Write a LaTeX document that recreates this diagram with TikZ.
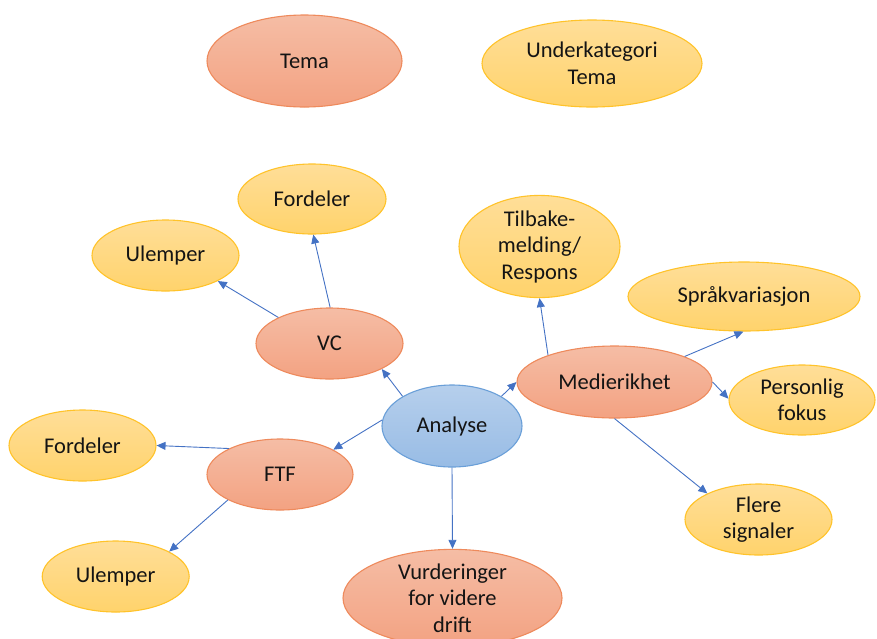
\documentclass[tikz,border=0pt]{standalone}
\usepackage{fontspec}
\setmainfont{Carlito}
\usetikzlibrary{shapes.geometric,arrows.meta}
\definecolor{salB}{HTML}{EE8A5C}
\definecolor{salT}{HTML}{F5BDA5}
\definecolor{salD}{HTML}{F3A282}
\definecolor{yelB}{HTML}{FFC32A}
\definecolor{yelT}{HTML}{FFDE98}
\definecolor{yelD}{HTML}{FFD36C}
\definecolor{bluB}{HTML}{6A9FD8}
\definecolor{bluT}{HTML}{B6CFEC}
\definecolor{bluD}{HTML}{98BCE5}
\definecolor{arr}{HTML}{4472C4}
\tikzset{
  bub/.style={ellipse, inner sep=0pt, align=center, line width=1.1pt,
    font=\fontsize{22.5}{26.5}\selectfont, text=black!92},
  sal/.style={bub, draw=salB, top color=salT, bottom color=salD},
  yel/.style={bub, draw=yelB, top color=yelT, bottom color=yelD},
  blu/.style={bub, draw=bluB, top color=bluT, bottom color=bluD},
  con/.style={draw=arr, line width=0.9pt, -{Triangle[length=9pt,width=8pt]}}
}
\begin{document}
\begin{tikzpicture}[x=1pt,y=-1pt]
\useasboundingbox (0,0) rectangle (877,638);
\node[sal, minimum width=195pt, minimum height=92pt] (tema) at (304.5,61) {Tema};
\node[yel, minimum width=220pt, minimum height=87pt] (under) at (592,63.5) {Underkategori\\Tema};
\node[yel, minimum width=148pt, minimum height=70pt] (f1) at (312,199) {Fordeler};
\node[yel, minimum width=147pt, minimum height=71pt] (u1) at (165.5,255.5) {Ulemper};
\node[sal, minimum width=147pt, minimum height=71pt] (vc) at (329.5,343.5) {VC};
\node[yel, minimum width=161pt, minimum height=79pt] (tilb) at (539.5,246.5) {Tilbake-\\melding/\\Respons};
\node[yel, minimum width=232pt, minimum height=69pt] (sprak) at (744,296.5) {Språkvariasjon};
\node[sal, minimum width=195pt, minimum height=72pt] (medie) at (614.5,382) {Medierikhet};
\node[yel, minimum width=146pt, minimum height=70pt] (pers) at (802,400) {Personlig\\fokus};
\node[blu, minimum width=140pt, minimum height=82pt] (ana) at (452,426) {Analyse};
\node[yel, minimum width=147pt, minimum height=71pt] (f2) at (82.5,445.5) {Fordeler};
\node[sal, minimum width=146pt, minimum height=71pt] (ftf) at (280,474.5) {FTF};
\node[yel, minimum width=147pt, minimum height=71pt] (flere) at (758.5,519.5) {Flere\\signaler};
\node[yel, minimum width=147pt, minimum height=71pt] (u2) at (115.7,576.5) {Ulemper};
\node[sal, minimum width=219pt, minimum height=88pt] (vurd) at (452.5,598) {Vurderinger\\for videre\\drift};
\draw[con] (vc.89) -- (f1.-88.5);
\draw[con] (vc.153.7) -- (u1.-26.8);
\draw[con] (ana.149) -- (vc.-26.8);
\draw[con] (ana.175) -- (ftf.25.7);
\draw[con] (ana.31) -- (medie.180.6);
\draw[con] (ana.-90) -- (vurd.90);
\draw[con] (ftf.153.4) -- (f2.0);
\draw[con] (ftf.206.6) -- (u2.25.5);
\draw[con] (medie.158.8) -- (tilb.-90);
\draw[con] (medie.20) -- (sprak.-91.6);
\draw[con] (medie.-0.6) -- (pers.179);
\draw[con] (medie.-90.8) -- (flere.153.7);
\end{tikzpicture}
\end{document}
